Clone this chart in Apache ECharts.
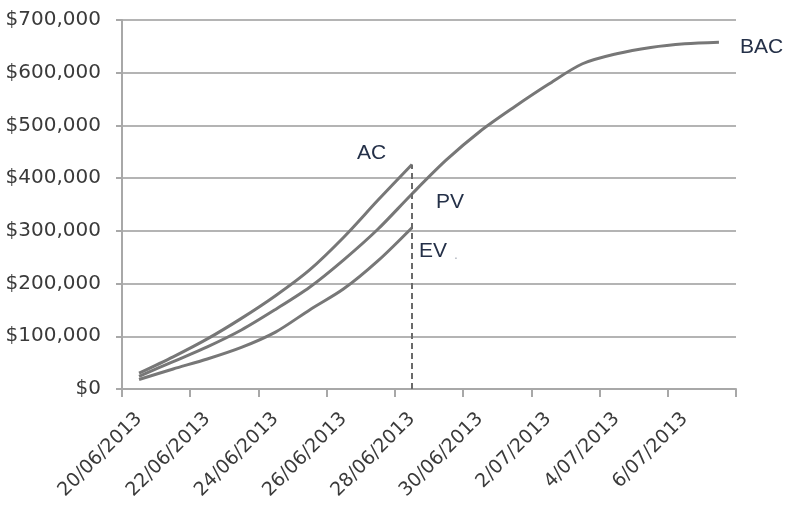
<!DOCTYPE html>
<html>
<head>
<meta charset="utf-8">
<script src="https://cdn.jsdelivr.net/npm/echarts@6/dist/echarts.min.js"></script>
<style>
  html, body { margin: 0; padding: 0; background: #fff; }
  #chart { width: 789px; height: 506px; }
</style>
</head>
<body>
<div id="chart"></div>
<script>
  // daily categories
  let dates = ['20/06/2013', '21/06/2013', '22/06/2013', '23/06/2013', '24/06/2013', '25/06/2013',
    '26/06/2013', '27/06/2013', '28/06/2013', '29/06/2013', '30/06/2013', '1/07/2013',
    '2/07/2013', '3/07/2013', '4/07/2013', '5/07/2013', '6/07/2013', '7/07/2013']
  // planned value, runs to the end of the project
  let pv = [24000, 52000, 80000, 112000, 151000, 193000, 245000, 303000, 370000,
    434000, 489000, 535000, 578000, 617000, 636000, 648000, 655000, 658000]
  // actual cost and earned value, up to the status date
  let ac = [30000, 61000, 95000, 134000, 177000, 226000, 288000, 358000, 426000]
  let ev = [18000, 38000, 57000, 79000, 108000, 150000, 190000, 243000, 306000]
  let statusDate = '28/06/2013'

  let lineColor = '#777777'
  let textColor = '#243048'
  let axisFont = { fontFamily: 'DejaVu Sans', color: '#3a3a3a' }

  function lineSeries(name, data) {
    return {
      name: name,
      type: 'line',
      data: data,
      symbol: 'none',
      smooth: 0.3,
      lineStyle: { color: lineColor, width: 3 }
    }
  }

  let myChart = echarts.init(document.getElementById('chart'))
  let acSeries = lineSeries('AC', ac)
  acSeries.markLine = {
    symbol: 'none',
    silent: true,
    label: { show: false },
    lineStyle: { color: '#6a6a6a', width: 2, type: [6, 4] },
    data: [[{ coord: [statusDate, 0] }, { coord: [statusDate, ac[ac.length - 1]] }]]
  }

  let option = {
    animation: false,
    grid: { left: 122, right: 53, top: 20, bottom: 117 },
    xAxis: {
      type: 'category',
      data: dates,
      boundaryGap: true,
      axisLine: { lineStyle: { color: '#a8a8a8', width: 2 } },
      axisTick: { show: true, interval: 1, length: 8, lineStyle: { color: '#a8a8a8', width: 2 } },
      axisLabel: Object.assign({ interval: 1, rotate: 45, margin: 27, fontSize: 19 }, axisFont),
      splitLine: { show: false }
    },
    yAxis: {
      type: 'value',
      min: 0,
      max: 700000,
      interval: 100000,
      axisLine: { show: true, lineStyle: { color: '#a8a8a8', width: 2 } },
      axisTick: { show: true, length: 6, lineStyle: { color: '#a8a8a8', width: 2 } },
      axisLabel: Object.assign({
        margin: 21,
        fontSize: 20,
        formatter: v => '$' + v.toLocaleString('en-US')
      }, axisFont),
      splitLine: { lineStyle: { color: '#b4b4b4', width: 2 } }
    },
    series: [lineSeries('PV', pv), acSeries, lineSeries('EV', ev)],
    graphic: [
      { type: 'text', left: 357, top: 143, style: { text: 'AC', font: '21px "Liberation Sans"', fill: textColor } },
      { type: 'text', left: 436, top: 192, style: { text: 'PV', font: '21px "Liberation Sans"', fill: textColor } },
      { type: 'text', left: 419, top: 241, style: { text: 'EV', font: '21px "Liberation Sans"', fill: textColor } },
      { type: 'text', left: 454, top: 248, style: { text: '.', font: '14px "Liberation Sans"', fill: '#aab0bb' } },
      { type: 'text', left: 740, top: 37, style: { text: 'BAC', font: '21px "Liberation Sans"', fill: textColor } }
    ]
  }
  myChart.setOption(option)
</script>
</body>
</html>
